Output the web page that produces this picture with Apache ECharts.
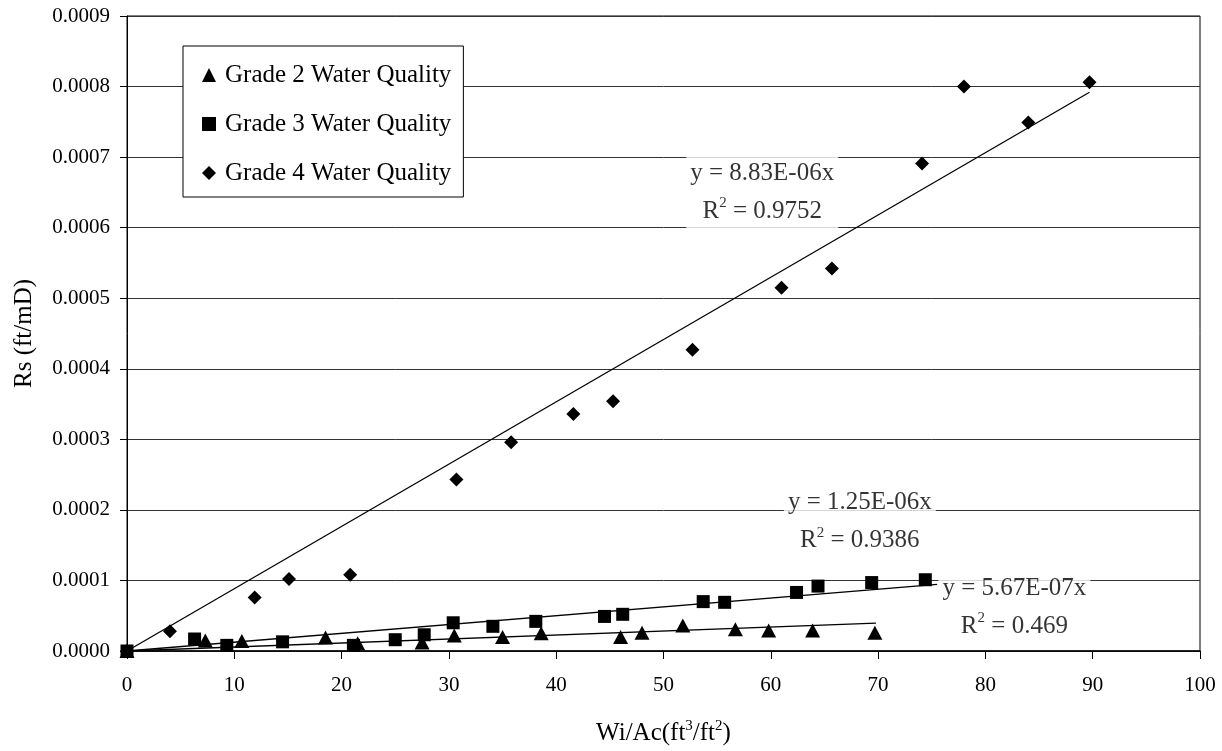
<!DOCTYPE html>
<html>
<head>
<meta charset="utf-8">
<script src="https://cdn.jsdelivr.net/npm/echarts@6/dist/echarts.min.js"></script>
<style>html,body{margin:0;padding:0;background:#fff}#c{width:1222px;height:751px}</style>
</head>
<body>
<div id="c"></div>
<script>
// ---- data ----
const grade2 = [[0,0],[7.3,0.000015],[10.7,0.000014],[18.5,0.000019],[21.5,0.000011],[27.5,0.000012],[30.5,0.000022],[35.0,0.000020],[38.6,0.000025],[46.0,0.000020],[48.0,0.000026],[51.8,0.000036],[56.7,0.000031],[59.8,0.000029],[63.9,0.000029],[69.7,0.000026]];
const grade3 = [[0,0],[6.3,0.000017],[9.3,0.000008],[14.5,0.000013],[21.1,0.000008],[25.0,0.000016],[27.7,0.000023],[30.4,0.000040],[34.1,0.000035],[38.1,0.000042],[44.5,0.000049],[46.2,0.000052],[53.7,0.000070],[55.7,0.000069],[62.4,0.000083],[64.4,0.000092],[69.4,0.000097],[74.4,0.000101]];
const grade4 = [[0,0],[4.0,0.000028],[11.9,0.000076],[15.1,0.000102],[20.8,0.000108],[30.7,0.000243],[35.8,0.000296],[41.6,0.000336],[45.3,0.000354],[52.7,0.000427],[61.0,0.000515],[65.7,0.000542],[74.1,0.000691],[78.0,0.000800],[84.0,0.000749],[89.7,0.000806]];
const trend2 = [[0,0],[69.8,0.0000396]];
const trend3 = [[0,0],[75.5,0.0000944]];
const trend4 = [[0,0],[89.7,0.000792]];
const seriesNames = ['Grade 2 Water Quality','Grade 3 Water Quality','Grade 4 Water Quality'];
const eqText = [['5.67E-07x','0.469'],['1.25E-06x','0.9386'],['8.83E-06x','0.9752']];
const eqAnchor = [[82.7,0.0000624],[68.3,0.000183],[59.2,0.000650]];
const xTicks = [0,10,20,30,40,50,60,70,80,90,100];
const yTicks = [0,0.0001,0.0002,0.0003,0.0004,0.0005,0.0006,0.0007,0.0008,0.0009];

const FONT = '"Liberation Serif","Times New Roman",serif';
const chart = echarts.init(document.getElementById('c'), null, {renderer:'canvas'});

const richBase = {
  t:{fontFamily:FONT,fontSize:25,color:'#000',lineHeight:38},
  sup:{fontFamily:FONT,fontSize:15,color:'#000',lineHeight:38,padding:[0,0,16,0]}
};

const eqData = eqAnchor.map((p,i)=>({
  value:p,
  label:{formatter:'{t|y = '+eqText[i][0]+'}\n{t|R}{sup|2}{t| = '+eqText[i][1]+'}'}
}));

const markerColor = '#000';
chart.setOption({
  backgroundColor:'#fff',
  animation:false,
  textStyle:{fontFamily:FONT},
  grid:{left:127,right:22,top:16,bottom:100,show:true,borderColor:'#000',borderWidth:1,backgroundColor:'transparent'},
  legend:{
    data:seriesNames.map(n=>({name:n})),
    orient:'vertical',left:183,top:46,
    backgroundColor:'#fff',borderColor:'#000',borderWidth:1,
    padding:[15,12,10,19],
    itemWidth:14,itemHeight:14,itemGap:21,
    textStyle:{fontFamily:FONT,fontSize:25,color:'#000',lineHeight:28,padding:[0,0,0,4]},
    itemStyle:{opacity:1},
    selectedMode:false
  },
  xAxis:{
    type:'value',min:xTicks[0],max:xTicks[xTicks.length-1],interval:10,
    name:'{t|Wi/Ac(ft}{sup|3}{t|/ft}{sup|2}{t|)}',
    nameLocation:'middle',nameGap:68,
    nameTextStyle:{rich:{t:{fontFamily:FONT,fontSize:25,color:'#000'},sup:{fontFamily:FONT,fontSize:15,color:'#000',padding:[0,0,14,0]}}},
    axisLine:{show:true,lineStyle:{color:'#000',width:1.5}},
    axisTick:{show:true,inside:false,length:8,lineStyle:{color:'#000'}},
    axisLabel:{fontFamily:FONT,fontSize:21,color:'#000',margin:24},
    splitLine:{show:false}
  },
  yAxis:{
    type:'value',min:0,max:0.0009,interval:0.0001,
    name:'Rs (ft/mD)',nameLocation:'middle',nameGap:90,
    nameTextStyle:{fontFamily:FONT,fontSize:25,color:'#000'},
    axisLine:{show:true,lineStyle:{color:'#000',width:1}},
    axisTick:{show:true,inside:false,length:7,lineStyle:{color:'#000'}},
    axisLabel:{fontFamily:FONT,fontSize:21,color:'#000',margin:17,formatter:v=>v.toFixed(4)},
    splitLine:{show:true,lineStyle:{color:'#333',width:1}}
  },
  series:[
    {name:'trend2',type:'line',data:trend2,symbol:'none',lineStyle:{color:'#000',width:1.3},silent:true,z:2},
    {name:'trend3',type:'line',data:trend3,symbol:'none',lineStyle:{color:'#000',width:1.3},silent:true,z:2},
    {name:'trend4',type:'line',data:trend4,symbol:'none',lineStyle:{color:'#000',width:1.3},silent:true,z:2},
    {name:'eq',type:'scatter',data:eqData,symbolSize:0,silent:true,z:5,
      label:{show:true,position:'inside',backgroundColor:'#fff',padding:[0,4],align:'center',verticalAlign:'middle',rich:richBase}},
    {name:seriesNames[0],type:'scatter',data:grade2,symbol:'triangle',symbolSize:[15,14],itemStyle:{color:markerColor,opacity:1},z:6},
    {name:seriesNames[1],type:'scatter',data:grade3,symbol:'rect',symbolSize:13,itemStyle:{color:markerColor,opacity:1},z:6},
    {name:seriesNames[2],type:'scatter',data:grade4,symbol:'diamond',symbolSize:14,itemStyle:{color:markerColor,opacity:1},z:6}
  ]
});
</script>
</body>
</html>
